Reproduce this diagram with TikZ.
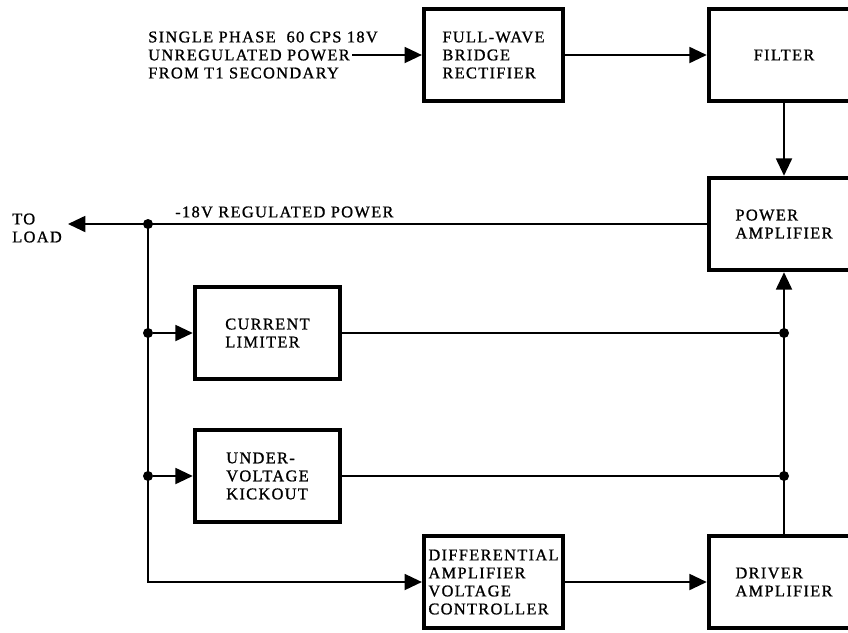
\documentclass[tikz,border=0pt]{standalone}
\usepackage{fontspec}
\usetikzlibrary{arrows.meta}
\newfontfamily\diagfont{Liberation Serif}[LetterSpace=8,FakeBold=1]
\newcommand\boxfont{\diagfont\fontsize{12.3}{13.5}\selectfont}

\begin{document}
\begin{tikzpicture}[x=0.75pt, y=-0.75pt,
    box/.style={draw, line width=3.4pt, minimum width=#1, minimum height=69pt,
                inner sep=0pt, align=left, font=\boxfont},
    box/.default=104pt,
    lbl/.style={inner sep=0pt, align=left, font=\boxfont},
    wire/.style={line width=1.4pt},
    arr/.style={wire, -{Triangle[length=13pt,width=12pt]}},
    dot/.style={circle, fill, inner sep=0pt, minimum size=7.5pt}]

    \useasboundingbox (0,0) rectangle (848,632);
    \clip (0,0) rectangle (848,632);

    % blocks
    \node[box]          (rect)   at (493.5,55)  {FULL-WAVE\\BRIDGE\\RECTIFIER};
    \node[box=112.5pt]  (filter) at (784,55)    {FILTER};
    \node[box=112.5pt]  (power)  at (784,224)   {POWER\\AMPLIFIER};
    \node[box=108.75pt] (limit)  at (267.5,333) {CURRENT\\LIMITER};
    \node[box=108.75pt] (kick)   at (267.5,476) {UNDER-\\VOLTAGE\\KICKOUT};
    \node[box]          (diff)   at (493.5,582) {DIFFERENTIAL\\AMPLIFIER\\VOLTAGE\\CONTROLLER};
    \node[box=112.5pt]  (driver) at (784,582)   {DRIVER\\AMPLIFIER};

    % free labels
    \node[lbl, anchor=west] (src)  at (148,55)  {SINGLE PHASE\ \ 60 CPS 18V\\UNREGULATED POWER\\FROM T1 SECONDARY};
    \node[lbl, anchor=west] (load) at (12,228)  {TO\\LOAD};
    \node[lbl, anchor=west] (reg)  at (175,212) {-18V REGULATED POWER};
    \coordinate (srcend)  at (352,55);
    \coordinate (loadtip) at (68,224);

    % junctions
    \node[dot] (j1) at (148,224) {};
    \node[dot] (j2) at (148,333) {};
    \node[dot] (j3) at (148,476) {};
    \coordinate (j4) at (148,582);
    \node[dot] (k1) at (784,333) {};
    \node[dot] (k2) at (784,476) {};

    % connections
    \draw[arr] (srcend) -- (rect);
    \draw[arr] (rect)   -- (filter);
    \draw[arr] (filter) -- (power);
    \draw[arr] (driver) -- (power);
    \draw[arr] (power)  -- (loadtip);
    \draw[arr] (j1.center) -- (j4) -- (diff);
    \draw[arr] (j2)     -- (limit);
    \draw[arr] (j3)     -- (kick);
    \draw[arr] (diff)   -- (driver);
    \draw[wire] (limit) -- (k1);
    \draw[wire] (kick)  -- (k2);
\end{tikzpicture}
\end{document}
